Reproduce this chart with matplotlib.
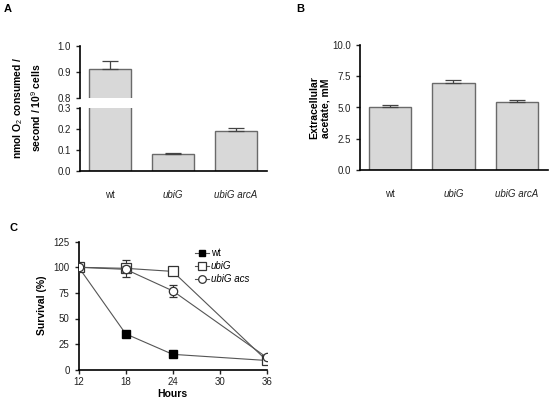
import matplotlib
matplotlib.use("Agg")
import matplotlib.pyplot as plt
from matplotlib.lines import Line2D
import numpy as np

plt.rcParams['font.family'] = ['Liberation Sans', 'DejaVu Sans']
plt.rcParams['mathtext.fontset'] = 'custom'
plt.rcParams['mathtext.rm'] = 'Liberation Sans'
plt.rcParams['mathtext.bf'] = 'Liberation Sans:bold'

# Panel A data
strainsA = ["wt", "ubiG", "ubiG arcA"]
o2_mean = [0.91, 0.080, 0.192]
o2_err = [0.031, 0.007, 0.015]
# Panel B data
strainsB = ["wt", "ubiG", "ubiG arcA"]
acetate_mean = [5.0, 6.92, 5.40]
acetate_err = [0.23, 0.28, 0.18]
# Panel C data
hours = [12, 18, 24, 36]
surv_wt = [100, 35, 15, 9]
surv_wt_err = [0, 2, 1, 1]
surv_ubiG = [100, 99, 96, 9]
surv_ubiG_err = [0, 8, 3, 1]
surv_acs = [100, 98, 77, 12]
surv_acs_err = [0, 3, 6, 1]

W, H = 549, 398
fig = plt.figure(figsize=(W / 100, H / 100), dpi=100)

def ax_px(x0, y0, x1, y1):
    return fig.add_axes([x0 / W, 1 - y1 / H, (x1 - x0) / W, (y1 - y0) / H])

bar_fc = '#d8d8d8'
bar_ec = '#6a6a6a'
tick_color = '#222222'
fs = 7

def style(ax):
    for s in ['top', 'right']:
        ax.spines[s].set_visible(False)
    ax.spines['left'].set_linewidth(1.2)
    ax.spines['bottom'].set_linewidth(1.2)
    ax.tick_params(labelsize=fs, colors=tick_color, width=1.0, length=3)

xpos = np.arange(3)
bw = 0.667

# ---- Panel A (broken axis) ----
axA_lo = ax_px(80, 108.3, 267.3, 170.7)
axA_hi = ax_px(80, 45.7, 267.3, 97.7)
for ax in (axA_lo, axA_hi):
    style(ax)
    ax.bar(xpos, o2_mean, width=bw, color=bar_fc, edgecolor=bar_ec, linewidth=1.0, zorder=2)
    ax.errorbar(xpos, o2_mean, yerr=[[0, 0, 0], o2_err], fmt='none', ecolor='#444444',
                elinewidth=0.9, capsize=6, capthick=0.9, zorder=3)
    ax.set_xlim(-0.47, 2.5)
axA_lo.set_ylim(0, 0.3)
axA_lo.set_yticks([0.0, 0.1, 0.2, 0.3])
axA_lo.set_yticklabels(['0.0', '0.1', '0.2', '0.3'])
axA_lo.spines['top'].set_visible(False)
axA_lo.set_xticks(xpos)
axA_lo.set_xticklabels(strainsA)
axA_lo.tick_params(axis='x', length=0, pad=14)
for lbl, st in zip(axA_lo.get_xticklabels(), ['normal', 'italic', 'italic']):
    lbl.set_fontstyle(st)
axA_hi.set_ylim(0.8, 1.0)
axA_hi.set_yticks([0.8, 0.9, 1.0])
axA_hi.set_yticklabels(['0.8', '0.9', '1.0'])
axA_hi.spines['bottom'].set_visible(False)
axA_hi.set_xticks([])
fig.text(27 / W, 1 - 108 / H, 'nmol O$_2$ consumed /\nsecond / 10$^9$ cells',
         rotation=90, ha='center', va='center', fontsize=7.5, fontweight='bold',
         linespacing=1.3)
fig.text(4 / W, 1 - 9 / H, 'A', fontsize=8, fontweight='bold', ha='left', va='center')

# ---- Panel B ----
axB = ax_px(360, 45, 548.3, 170)
style(axB)
axB.bar(xpos, acetate_mean, width=bw, color=bar_fc, edgecolor=bar_ec, linewidth=1.0, zorder=2)
axB.errorbar(xpos, acetate_mean, yerr=[[0, 0, 0], acetate_err], fmt='none', ecolor='#444444',
             elinewidth=0.9, capsize=6, capthick=0.9, zorder=3)
axB.set_xlim(-0.478, 2.5)
axB.set_ylim(0, 10)
axB.set_yticks([0, 2.5, 5, 7.5, 10])
axB.set_yticklabels(['0.0', '2.5', '5.0', '7.5', '10.0'])
axB.set_xticks(xpos)
axB.set_xticklabels(strainsB)
axB.tick_params(axis='x', length=0, pad=14)
for lbl, st in zip(axB.get_xticklabels(), ['normal', 'italic', 'italic']):
    lbl.set_fontstyle(st)
fig.text(320 / W, 1 - 108 / H, 'Extracellular\nacetate, mM', rotation=90, ha='center',
         va='center', fontsize=7.5, fontweight='bold', linespacing=1.2)
fig.text(296 / W, 1 - 9 / H, 'B', fontsize=8, fontweight='bold', ha='left', va='center')

# ---- Panel C ----
axC = ax_px(78.7, 241.7, 266.7, 369.7)
style(axC)
lc = '#555555'
axC.errorbar(hours, surv_wt, yerr=surv_wt_err, color=lc, lw=0.8, marker='s', ms=5.5,
             mfc='black', mec='black', capsize=3, elinewidth=0.8, ecolor='#333333', zorder=3)
axC.errorbar(hours, surv_ubiG, yerr=surv_ubiG_err, color=lc, lw=0.8, marker='s', ms=6.5,
             mfc='white', mec='#333333', mew=0.9, capsize=3, elinewidth=0.8, ecolor='#333333',
             zorder=4)
axC.errorbar(hours, surv_acs, yerr=surv_acs_err, color=lc, lw=0.8, marker='o', ms=6,
             mfc='white', mec='#333333', mew=0.9, capsize=3, elinewidth=0.8, ecolor='#333333',
             zorder=5)
axC.set_xlim(12, 36)
axC.set_ylim(0, 125)
axC.set_xticks([12, 18, 24, 30, 36])
axC.set_yticks([0, 25, 50, 75, 100, 125])
axC.tick_params(axis='x', pad=2)
axC.set_xlabel('Hours', fontsize=7.5, fontweight='bold', labelpad=2)
axC.set_ylabel('Survival (%)', fontsize=7.5, fontweight='bold', labelpad=5)
handles = [
    Line2D([], [], color=lc, lw=0.8, marker='s', ms=5, mfc='black', mec='black'),
    Line2D([], [], color=lc, lw=0.8, marker='s', ms=5.5, mfc='white', mec='#333333', mew=0.9),
    Line2D([], [], color=lc, lw=0.8, marker='o', ms=5.5, mfc='white', mec='#333333', mew=0.9),
]
labels = ['wt', 'ubiG', 'ubiG acs']
leg = axC.legend(handles, labels, loc='upper left', bbox_to_anchor=(0.6, 0.98), frameon=False,
                 fontsize=7, handlelength=1.4, handletextpad=0.2, labelspacing=0.3,
                 borderaxespad=0)
for t, st in zip(leg.get_texts(), ['normal', 'italic', 'italic']):
    t.set_fontstyle(st)
fig.text(9 / W, 1 - 228 / H, 'C', fontsize=8, fontweight='bold', ha='left', va='center')

fig.savefig('out.png', dpi=100)
